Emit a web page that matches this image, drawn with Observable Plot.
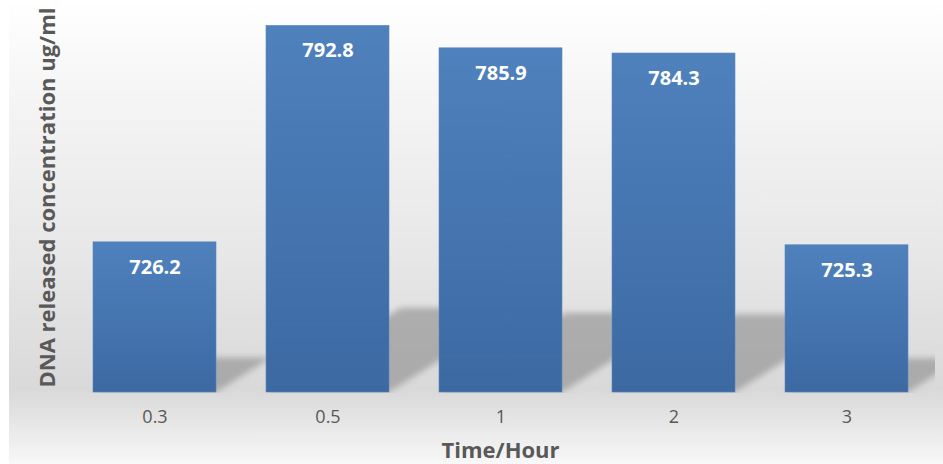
<!DOCTYPE html>
<html><head><meta charset="utf-8">
<script src="https://cdn.jsdelivr.net/npm/d3@7"></script>
<script src="https://cdn.jsdelivr.net/npm/@observablehq/plot@0.6"></script>
<style>
html,body{margin:0;padding:0;background:#fff;}
#chart svg{display:block;}
</style>
</head><body><div id="chart"></div>
<script>
// ---- data ----
const times = ["0.3", "0.5", "1", "2", "3"];
const values = [726.2, 792.8, 785.9, 784.3, 725.3];
const xTitle = "Time/Hour";
const yTitle = "DNA released concentration ug/ml";
const yDomain = [680, 800];

const data = times.map((t, i) => ({time: t, value: values[i]}));

const W = 943, H = 464;

// decorative perspective shadows behind each bar
function shadows(index, scales) {
  const x = scales.x, y = scales.y;
  const bw = typeof x.bandwidth === "function" ? x.bandwidth() : x.bandwidth;
  const base = y(yDomain[0]);
  const g = d3.create("svg:g")
    .attr("clip-path", "url(#frameClip)");
  const inner = g.append("g").attr("filter", "url(#shadowBlur)");
  for (const d of data) {
    const x0 = x(d.time), x1 = x0 + bw;
    const h = base - y(d.value);
    const sh = 0.23 * h;
    const off = 1.6 * sh;
    const pts = [[x0, base], [x1, base], [x1 + off, base - sh], [x0 + off, base - sh]];
    inner.append("polygon")
      .attr("points", pts.map(p => p.join(",")).join(" "))
      .attr("fill", "#8a8a8a")
      .attr("fill-opacity", 0.6);
  }
  return g.node();
}

const svg = Plot.plot({
  width: W,
  height: H,
  marginLeft: 66,
  marginRight: 9,
  marginTop: 2,
  marginBottom: 72,
  x: {domain: times, paddingInner: 0.29, paddingOuter: 0.145, label: null},
  y: {domain: yDomain, axis: null},
  marks: [
    shadows,
    Plot.barY(data, {
      x: "time", y1: yDomain[0], y2: "value",
      fill: "url(#barGrad)", stroke: "#5a87c2", strokeWidth: 0.6
    }),
    Plot.text(data, {
      x: "time", y: "value", text: d => d.value.toFixed(1),
      dy: 25, fill: "white", fontWeight: "bold", fontSize: 20, lineAnchor: "middle"
    }),
    Plot.axisX({tickSize: 0, tickPadding: 18, fontSize: 18, fill: "#595959", label: null}),
    Plot.text([xTitle], {
      text: d => d, frameAnchor: "bottom", dy: 58, lineAnchor: "middle",
      fontWeight: "bold", fontSize: 22, fill: "#595959"
    }),
    Plot.text([yTitle], {
      text: d => d, frameAnchor: "left", dx: -19, rotate: -90,
      textAnchor: "middle", lineAnchor: "middle",
      fontWeight: "bold", fontSize: 22, fill: "#595959"
    })
  ]
});

svg.style.fontFamily = "'Open Sans', sans-serif";
svg.style.background =
  "linear-gradient(to right, #ffffff 9px, rgba(255,255,255,0) 9px), " +
  "linear-gradient(to bottom, #ffffff 0%, #f3f3f3 25%, #e7e7e7 55%, #d9d9d9 84%, #e6e6e6 91%, #f8f8f8 100%)";

const NS = "http://www.w3.org/2000/svg";
const defs = document.createElementNS(NS, "defs");
defs.innerHTML = `
  <linearGradient id="barGrad" x1="0" y1="0" x2="0" y2="1">
    <stop offset="0%" stop-color="#4f81bd"/>
    <stop offset="100%" stop-color="#3c69a2"/>
  </linearGradient>
  <filter id="shadowBlur" x="-20%" y="-20%" width="140%" height="140%">
    <feGaussianBlur stdDeviation="3"/>
  </filter>
  <clipPath id="frameClip"><rect x="0" y="0" width="935" height="393"/></clipPath>`;
svg.insertBefore(defs, svg.firstChild);

document.getElementById("chart").appendChild(svg);
</script>
</body></html>
